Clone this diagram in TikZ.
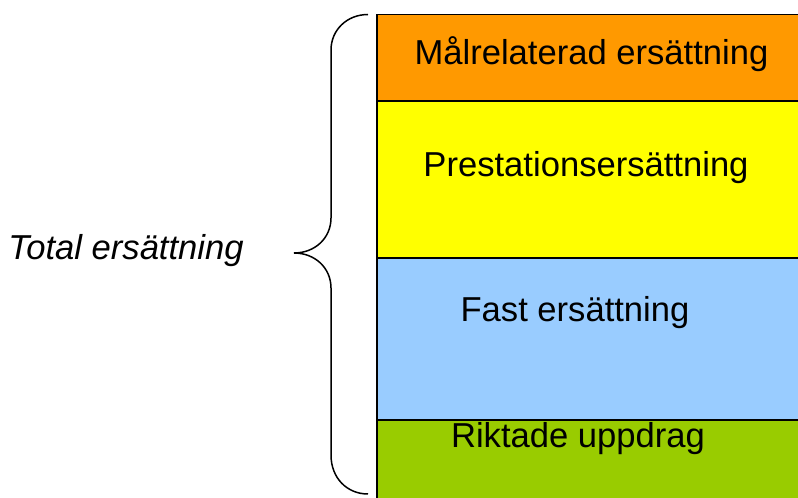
\documentclass[tikz,border=0pt]{standalone}
\usepackage{fontspec}
\setmainfont{Liberation Sans}
\begin{document}
\begin{tikzpicture}[x=1pt,y=1pt,
  band/.style={draw=black,line width=1.6pt},
  lbl/.style={anchor=base,inner sep=0pt,font=\fontsize{34.6}{40}\selectfont},
  bracestyle/.style={draw=black,line width=1.5pt}]
\useasboundingbox (0,0) rectangle (798,498);
\definecolor{cOrange}{HTML}{FF9900}
\definecolor{cYellow}{HTML}{FFFF00}
\definecolor{cBlue}{HTML}{99CCFF}
\definecolor{cGreen}{HTML}{99CC00}
% bands
\path[band,fill=cGreen] (377,-5) rectangle (805,78);
\path[band,fill=cBlue] (377,78) rectangle (805,240);
\path[band,fill=cYellow] (377,240) rectangle (805,397);
\path[band,fill=cOrange] (377,397) rectangle (805,483.5);
% labels
\node[lbl] (mal) at (591.5,433) {Målrelaterad ersättning};
\node[lbl] (pre) at (586,321) {Prestationsersättning};
\node[lbl] (fas) at (575,176) {Fast ersättning};
\node[lbl] (rik) at (578,50) {Riktade uppdrag};
\node[lbl,font=\fontsize{34.6}{40}\selectfont\itshape] (tot) at (126,238) {Total ersättning};
% brace
\coordinate (btop) at (368,483.5);
\coordinate (btip) at (294,245);
\coordinate (bbot) at (368,4);
\draw[bracestyle] (btop) .. controls (347,483.5) and (331,468) .. (331,448)
  -- (331,280) .. controls (331,260) and (315,245) .. (btip)
  .. controls (315,245) and (331,230) .. (331,210)
  -- (331,43) .. controls (331,20) and (347,4) .. (bbot);
\end{tikzpicture}
\end{document}
